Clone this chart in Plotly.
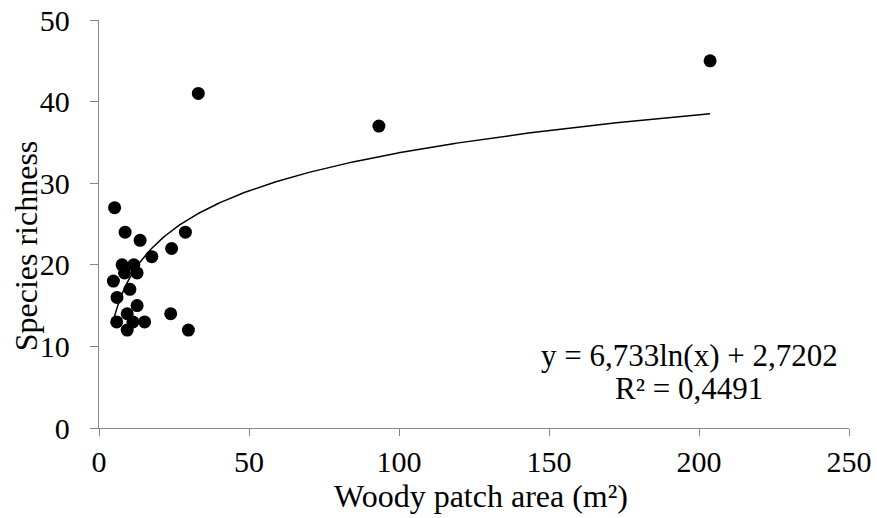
import numpy as np
import plotly.graph_objects as go

# Woody patch area (m²) and species richness
area = [5.2, 8.7, 13.7, 28.8, 24.2, 17.6, 7.7, 11.6, 8.5, 12.7, 4.8, 10.3, 6.0,
        12.7, 9.4, 23.9, 5.9, 11.3, 15.2, 9.4, 29.8, 33.1, 93.3, 203.7]
richness = [27, 24, 23, 24, 22, 21, 20, 20, 19, 19, 18, 17, 16,
            15, 14, 14, 13, 13, 13, 12, 12, 41, 37, 45]

# Logarithmic trendline coefficients (as shown on chart)
coef_a = 6.733
coef_b = 2.7202
eq_text = "y = 6,733ln(x) + 2,7202"
r2_text = "R² = 0,4491"

x_ticks = [0, 50, 100, 150, 200, 250]
y_ticks = [0, 10, 20, 30, 40, 50]

x_fit = np.linspace(min(area), max(area), 300)
y_fit = coef_a * np.log(x_fit) + coef_b

font_family = "Liberation Serif, Times New Roman, serif"
axis_col = "#878787"

fig = go.Figure()
fig.add_trace(go.Scatter(x=x_fit, y=y_fit, mode="lines",
                         line=dict(color="black", width=1.5),
                         hoverinfo="skip", showlegend=False))
fig.add_trace(go.Scatter(x=area, y=richness, mode="markers",
                         marker=dict(color="black", size=13),
                         showlegend=False))

fig.add_annotation(x=0.787, y=0.178, xref="paper", yref="paper",
                   text=eq_text, showarrow=False, xanchor="center", yanchor="middle",
                   font=dict(family=font_family, size=31, color="black"))
fig.add_annotation(x=0.787, y=0.096, xref="paper", yref="paper",
                   text=r2_text, showarrow=False, xanchor="center", yanchor="middle",
                   font=dict(family=font_family, size=31, color="black"))
# axis titles
fig.add_annotation(x=0.509, y=-0.167, xref="paper", yref="paper",
                   text="Woody patch area (m²)", showarrow=False,
                   xanchor="center", yanchor="middle",
                   font=dict(family=font_family, size=32, color="black"))
fig.add_annotation(x=-0.097, y=0.446, xref="paper", yref="paper",
                   text="Species richness", showarrow=False, textangle=-90,
                   xanchor="center", yanchor="middle",
                   font=dict(family=font_family, size=32, color="black"))

fig.update_layout(
    width=877, height=518,
    margin=dict(l=99, r=28, t=20, b=90),
    paper_bgcolor="white", plot_bgcolor="white",
    font=dict(family=font_family, size=30, color="black"),
    xaxis=dict(range=[0, 250], tickvals=x_ticks, automargin=False,
               showgrid=False, zeroline=False, showline=True,
               linecolor=axis_col, linewidth=1.3, ticks="outside",
               tickcolor=axis_col, ticklen=7, tickwidth=1.3,
               ticklabeloverflow="allow",
               tickfont=dict(size=30)),
    yaxis=dict(range=[0, 50], tickvals=y_ticks, automargin=False,
               showgrid=False, zeroline=False, showline=True,
               linecolor=axis_col, linewidth=1.3, ticks="outside",
               tickcolor=axis_col, ticklen=8, tickwidth=1.3,
               ticklabelstandoff=14, ticklabeloverflow="allow",
               tickfont=dict(size=30)),
)

fig.write_html("out.html",
               config={"displayModeBar": False},
               post_script="document.body.style.margin='0';document.body.style.overflow='hidden';")
